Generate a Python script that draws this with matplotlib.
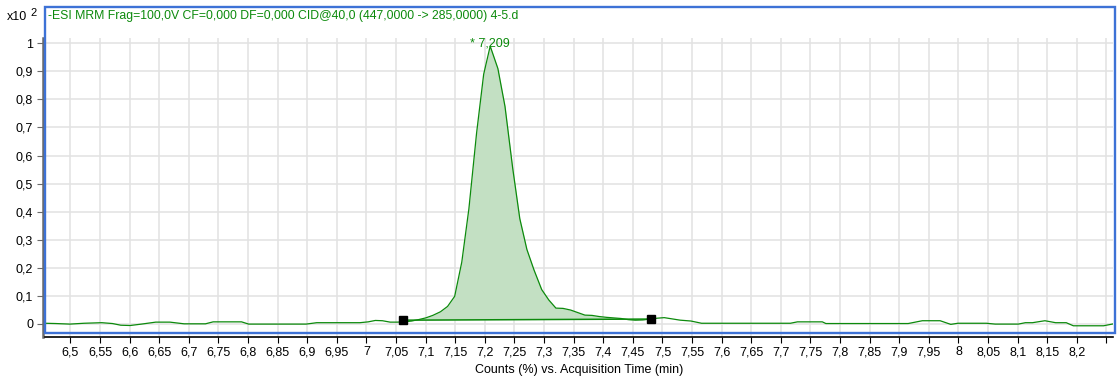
import numpy as np
import matplotlib
matplotlib.use("Agg")
import matplotlib.pyplot as plt
from matplotlib.patches import Rectangle

plt.rcParams['font.family'] = ['Liberation Sans', 'DejaVu Sans']

# acquisition time (min) and counts (x10^2)
time_min = [6.456, 6.475, 6.499, 6.523, 6.553, 6.571, 6.585, 6.601, 6.620, 6.644,
            6.668, 6.692, 6.728, 6.741, 6.789, 6.801, 6.898, 6.916, 6.989, 7.003,
            7.015, 7.027, 7.040, 7.052, 7.064, 7.076, 7.088, 7.100, 7.112, 7.125,
            7.137, 7.149, 7.161, 7.173, 7.186, 7.198, 7.209, 7.222, 7.234, 7.247,
            7.259, 7.271, 7.283, 7.296, 7.308, 7.320, 7.332, 7.345, 7.357, 7.369,
            7.381, 7.393, 7.406, 7.418, 7.430, 7.442, 7.454, 7.467, 7.479, 7.491,
            7.503, 7.515, 7.530, 7.548, 7.566, 7.716, 7.728, 7.770, 7.776, 7.915,
            7.939, 7.969, 7.987, 7.999, 8.047, 8.062, 8.101, 8.113, 8.125, 8.146,
            8.164, 8.182, 8.194, 8.245, 8.262]
counts = [0.002, 0.001, -0.001, 0.002, 0.004, 0.001, -0.005, -0.006, -0.001, 0.006,
          0.006, 0.000, 0.000, 0.007, 0.007, -0.001, -0.001, 0.004, 0.004, 0.007,
          0.012, 0.011, 0.006, 0.006, 0.007, 0.010, 0.015, 0.021, 0.030, 0.043,
          0.062, 0.098, 0.220, 0.410, 0.680, 0.890, 0.990, 0.910, 0.775, 0.555,
          0.375, 0.265, 0.192, 0.122, 0.085, 0.056, 0.055, 0.049, 0.040, 0.031,
          0.030, 0.026, 0.023, 0.021, 0.019, 0.015, 0.013, 0.014, 0.017, 0.020,
          0.022, 0.018, 0.013, 0.010, 0.002, 0.002, 0.007, 0.007, 0.001, 0.001,
          0.011, 0.011, -0.002, 0.002, 0.002, -0.001, -0.001, 0.004, 0.004, 0.011,
          0.004, 0.004, -0.007, -0.007, 0.000]

# integration start / end points
peak_start = (7.062, 0.013)
peak_end = (7.481, 0.017)
peak_rt = 7.209

xticks = np.round(np.arange(6.5, 8.2501, 0.05), 2)
xticklabels = [('%g' % v).replace('.', ',') for v in xticks]
xticklabels[-1] = ''
yticks = np.round(np.arange(0, 1.01, 0.1), 1)
yticklabels = [('%g' % v).replace('.', ',') for v in yticks]

title = '-ESI MRM Frag=100,0V CF=0,000 DF=0,000 CID@40,0 (447,0000 -> 285,0000) 4-5.d'

green = '#0c8a0c'
W, H = 1119, 378

fig = plt.figure(figsize=(W / 100, H / 100), dpi=100)
ax = fig.add_axes([45 / W, (H - 337) / H, 1068 / W, 299 / H])

t = np.array(time_min)
y = np.array(counts)

# shaded peak area above the integration baseline
mask = (t >= peak_start[0]) & (t <= peak_end[0])
tf = np.concatenate([[peak_start[0]], t[mask], [peak_end[0]]])
yf = np.interp(tf, t, y)
base = np.interp(tf, [peak_start[0], peak_end[0]], [peak_start[1], peak_end[1]])
ax.fill_between(tf, base, yf, color='#c3e0c3', lw=0, zorder=2)
ax.plot(t, y, color=green, lw=0.9, zorder=3)
ax.plot([peak_start[0], peak_end[0]], [peak_start[1], peak_end[1]], color=green, lw=1.1, zorder=3)
ax.plot([peak_start[0], peak_end[0]], [peak_start[1], peak_end[1]], 's', color='black', ms=6, zorder=4)
ax.text(peak_rt, 0.999, '* ' + ('%.3f' % peak_rt).replace('.', ','), color=green,
        fontsize=9, ha='center', va='center', zorder=5)

ax.set_xlim(6.457, 8.261)
ax.set_ylim(-0.047, 1.019)
ax.set_xticks(xticks)
ax.set_xticklabels(xticklabels)
ax.set_yticks(yticks)
ax.set_yticklabels(yticklabels)
ax.grid(True, color='#e2e2e2', lw=1.1, zorder=0)
ax.set_axisbelow(True)
for s in ['top', 'right']:
    ax.spines[s].set_visible(False)
ax.spines['left'].set_color('#6a6a6a')
ax.spines['left'].set_linewidth(1.8)
ax.spines['left'].set_position(('outward', 1.5))
ax.spines['bottom'].set_color('black')
ax.spines['bottom'].set_linewidth(1.2)
ax.tick_params(axis='x', length=4, pad=2.5, labelsize=9, colors='black')
ax.tick_params(axis='y', length=4, pad=3, labelsize=9, color='#6a6a6a', labelcolor='black')
ax.set_xlabel('Counts (%) vs. Acquisition Time (min)', fontsize=9, labelpad=4)

fig.text(7 / W, 1 - 17 / H, 'x10', fontsize=9, ha='left', va='center')
fig.text(30 / W, 1 - 13 / H, '2', fontsize=8, ha='left', va='center')
fig.text(48 / W, 1 - 16 / H, title, fontsize=8.8, color=green, ha='left', va='center')

fig.patches.append(Rectangle((44.5 / W, (H - 333) / H), 1070 / W, 326.5 / H,
                             transform=fig.transFigure, fill=False,
                             edgecolor='#3d72d6', lw=1.7, zorder=10))

fig.savefig('out.png', dpi=100)
